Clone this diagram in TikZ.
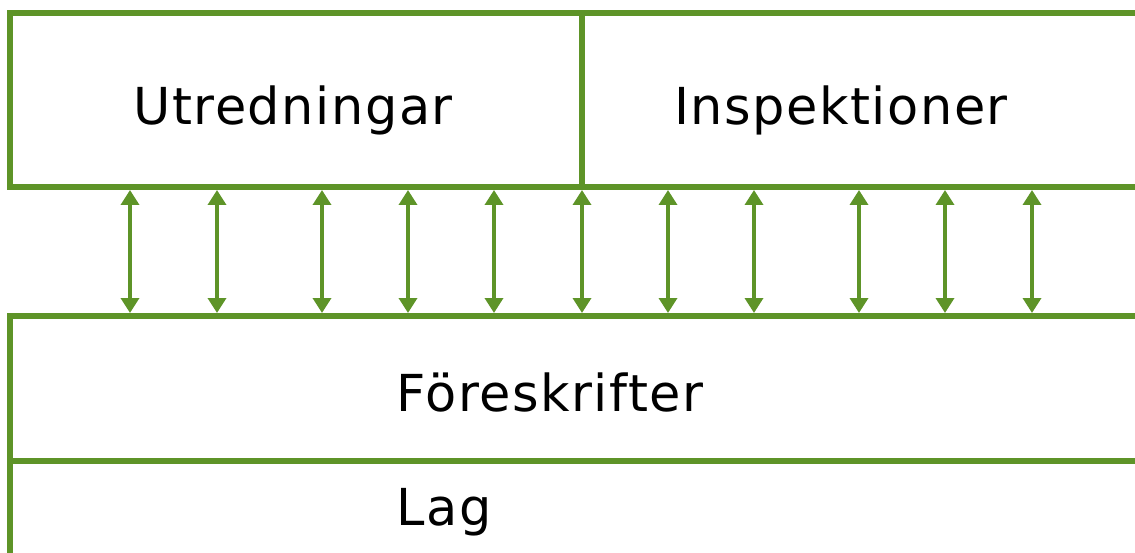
\documentclass[tikz,border=0pt]{standalone}
\usepackage{fontspec}
\setmainfont{DejaVu Sans}[LetterSpace=3]
\usetikzlibrary{arrows.meta}
\definecolor{gron}{HTML}{5E9428}

\begin{document}
\begin{tikzpicture}[x=0.02cm,y=-0.02cm,
    ram/.style={draw=gron,line width=0.11cm},
    pil/.style={draw=gron,line width=0.07cm,
      {Triangle[length=0.3cm,width=0.36cm]}-{Triangle[length=0.3cm,width=0.36cm]}},
    rubrik/.style={font=\fontsize{29}{35}\selectfont,inner sep=0pt}]
  \useasboundingbox (0,0) rectangle (1135,553);
  % ramar
  \draw[ram] (1160,13) -- (10,13) -- (10,187) -- (1160,187);
  \draw[ram] (582,13) -- (582,187);
  \draw[ram] (1160,316) -- (10,316) -- (10,580);
  \draw[ram] (10,461) -- (1160,461);
  % texter
  \node[rubrik,anchor=base] (utr) at (293,125) {Utredningar};
  \node[rubrik,anchor=base] (insp) at (841,125) {Inspektioner};
  \node[rubrik,anchor=base west] (fores) at (396,412) {Föreskrifter};
  \node[rubrik,anchor=base west] (lag) at (396,525) {Lag};
  % pilar
  \foreach \x [count=\i] in {130,217,322,408,494,582,668,754,859,945,1032}{
    \coordinate (upp\i) at (\x,190);
    \coordinate (ned\i) at (\x,313);
    \draw[pil] (upp\i) -- (ned\i);
  }
\end{tikzpicture}
\end{document}
